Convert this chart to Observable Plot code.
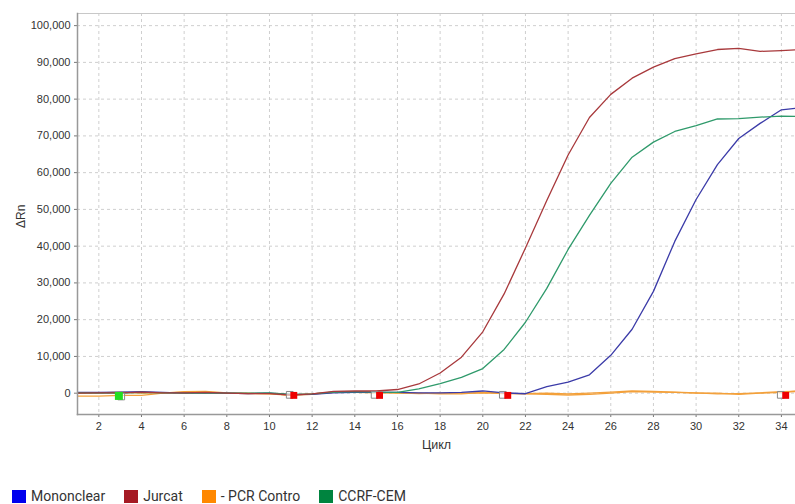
<!DOCTYPE html>
<html>
<head>
<meta charset="utf-8">
<script src="https://cdn.jsdelivr.net/npm/d3@7"></script>
<script src="https://cdn.jsdelivr.net/npm/@observablehq/plot@0.6"></script>
<style>
  html, body { margin: 0; padding: 0; background: #fff; }
  body { width: 795px; height: 504px; overflow: hidden; }
  #chart svg { display: block; }
  #legend { display: flex; align-items: center; height: 20px; margin-top: 6px; padding-left: 12px;
    font-family: Roboto, "Noto Sans", sans-serif; font-size: 14px; color: #333; }
  .item { display: flex; align-items: center; margin-right: 19px; }
  .sw { width: 14px; height: 13px; margin-right: 5px; }
</style>
</head>
<body>
<div id="chart"></div>
<div id="legend"></div>
<script>
const cycles = d3.range(1, 36);
const mononclear = [200, 200, 300, 400, 200, 0, 100, 0, -100, 0, -400, -300, 100, 200, 200, 200, 100, 100, 200, 600, 100, -150, 1800, 3000, 5000, 10300, 17400, 27700, 41300, 52700, 62200, 69300, 73400, 77100, 77700];
const jurcat = [0, 100, 100, 300, 100, 100, 200, 0, -100, -100, -500, -200, 500, 600, 600, 1000, 2500, 5500, 9800, 16700, 27000, 39500, 52400, 64800, 75000, 81300, 85700, 88700, 91000, 92300, 93500, 93800, 93000, 93200, 93500];
const pcrControlA = [-800, -800, -600, -600, 0, 400, 500, 100, 0, -100, -500, -300, 300, 400, 200, 0, 0, -200, -200, 200, 0, -200, -300, -500, -300, 0, 400, 300, 200, 0, 0, -300, 0, 200, 700];
const pcrControlB = [0, 100, 300, 0, 100, 200, 300, 0, -100, -200, -600, -200, 200, 200, 100, 100, -100, 0, 0, 100, -100, -100, 0, -200, 0, 300, 600, 500, 300, 100, -200, -100, 100, 400, 500];
const ccrfCem = [100, 0, 0, 200, 100, 0, 100, 0, 0, 100, -300, -200, 300, 400, 300, 200, 1200, 2600, 4300, 6700, 11900, 19300, 28500, 39100, 48400, 57100, 64200, 68300, 71200, 72800, 74600, 74700, 75100, 75400, 75300];

const xTicks = d3.range(2, 35, 2);
const yTicks = d3.range(0, 100001, 10000);

// baseline / threshold markers
const redMarkCycles = [11.14, 15.16, 21.17, 34.2];
const redMarkValues = [-600, -600, -600, -600];
const hollowMarkCycles = [3.05, 10.95, 14.93, 20.94, 33.97];
const hollowMarkValues = [-900, -450, -450, -450, -450];
const greenMarkCycles = [2.94];
const greenMarkValues = [-750];

const seriesNames = ["Mononclear", "Jurcat", "- PCR Contro", "CCRF-CEM"];
const lineColors = ["#3b3ba8", "#a8393c", "#f3a03a", "#2f9a6b"];
const legendColors = ["#0000ee", "#a51a24", "#ff8800", "#00843f"];

const rows = [];
const addSeries = (name, id, vals) => vals.forEach((v, i) => rows.push({ name, id, cycle: cycles[i], value: v }));
addSeries("- PCR Contro", "pcrA", pcrControlA);
addSeries("- PCR Contro", "pcrB", pcrControlB);
addSeries("Mononclear", "mono", mononclear);
addSeries("CCRF-CEM", "ccrf", ccrfCem);
addSeries("Jurcat", "jur", jurcat);

const colorOf = Object.fromEntries(seriesNames.map((n, i) => [n, lineColors[i]]));

const redMarks = redMarkCycles.map((c, i) => ({ cycle: c, value: redMarkValues[i] }));
const hollowMarks = hollowMarkCycles.map((c, i) => ({ cycle: c, value: hollowMarkValues[i] }));
const greenMarks = greenMarkCycles.map((c, i) => ({ cycle: c, value: greenMarkValues[i] }));

const chart = Plot.plot({
  width: 795,
  height: 480,
  marginLeft: 77,
  marginRight: 0,
  marginTop: 13,
  marginBottom: 66,
  style: { fontFamily: "'Liberation Sans', Arial, sans-serif", fontSize: "11px", color: "#333", background: "#fff" },
  x: { domain: [1, 34.66], ticks: xTicks, tickSize: 3, tickPadding: 5, label: null },
  y: { domain: [-5800, 103300], ticks: yTicks, tickSize: 3, tickPadding: 4, tickFormat: d3.format(","), label: null },
  marks: [
    Plot.ruleX(xTicks, { stroke: "#cfcfcf", strokeDasharray: "3,3", strokeWidth: 1 }),
    Plot.ruleY(yTicks, { stroke: "#cfcfcf", strokeDasharray: "3,3", strokeWidth: 1 }),
    Plot.frame({ anchor: "top", stroke: "#c8c8c8" }),
    Plot.lineY(rows, { x: "cycle", y: "value", z: "id", stroke: d => colorOf[d.name], strokeWidth: 1.3, clip: true }),
    Plot.dot(hollowMarks, { x: "cycle", y: "value", symbol: "square", r: 3.8, fill: "#fff", fillOpacity: 0.6, stroke: "#888", strokeWidth: 1 }),
    Plot.dot(redMarks, { x: "cycle", y: "value", symbol: "square", r: 3.9, fill: "#ee0000" }),
    Plot.dot(greenMarks, { x: "cycle", y: "value", symbol: "square", r: 4.5, fill: "#22dd22" }),
    Plot.axisX({ ticks: xTicks, tickSize: 3, tickPadding: 5, stroke: "#777", fill: "#333", label: null }),
    Plot.axisY({ ticks: yTicks, tickSize: 3, tickPadding: 4, tickFormat: d3.format(","), stroke: "#777", fill: "#333", label: null }),
    Plot.frame({ anchor: "left", stroke: "#999", strokeWidth: 1.5 }),
    Plot.frame({ anchor: "bottom", stroke: "#999", strokeWidth: 1.5 }),
    Plot.text(["Цикл"], { frameAnchor: "bottom", dy: 34, fontSize: 12.5, fill: "#333" }),
    Plot.text(["ΔRn"], { frameAnchor: "left", dx: -56, dy: 14, rotate: -90, fontSize: 12, fill: "#333" })
  ]
});
document.getElementById("chart").appendChild(chart);

const legend = document.getElementById("legend");
seriesNames.forEach((n, i) => {
  const it = document.createElement("div");
  it.className = "item";
  const sw = document.createElement("div");
  sw.className = "sw";
  sw.style.background = legendColors[i];
  const t = document.createElement("span");
  t.textContent = n;
  it.appendChild(sw); it.appendChild(t);
  legend.appendChild(it);
});
</script>
</body>
</html>
